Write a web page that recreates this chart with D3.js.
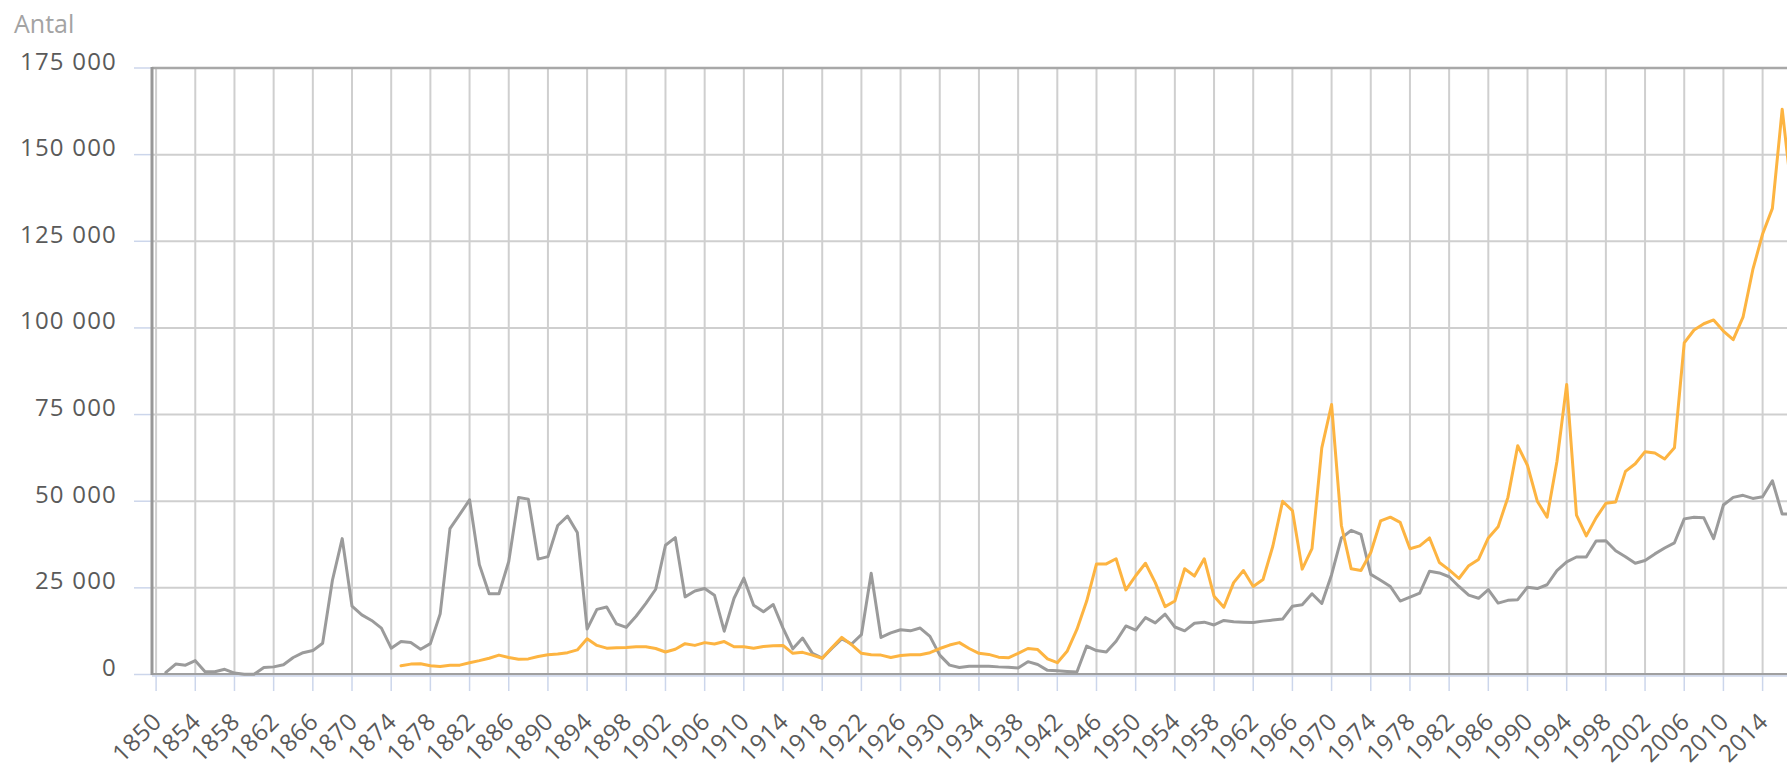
<!DOCTYPE html>
<html>
<head>
<meta charset="utf-8">
<script src="https://cdn.jsdelivr.net/npm/d3@7"></script>
<style>
  html, body { margin: 0; padding: 0; background: #fff; }
  svg { display: block; font-family: "Open Sans", sans-serif; }
</style>
</head>
<body>
<div id="chart"></div>
<script>
// Antal per år, två serier (grå från 1851, orange från 1875)

const grayStart = 1851;
const grayValues = [
  600, 3000, 2700, 4000, 800, 800, 1500, 400, 100, 100,            // 1851-1860
  2000, 2200, 2800, 4900, 6300, 6900, 9000, 27200, 39200, 19700,   // 1861-1870
  17200, 15600, 13400, 7600, 9500, 9200, 7300, 8900, 17500, 42100, // 1871-1880
  46200, 50400, 31700, 23300, 23300, 32600, 51100, 50600, 33300, 34000, // 1881-1890
  43000, 45700, 41000, 13100, 18800, 19500, 14600, 13600, 16800, 20500, // 1891-1900
  24600, 37300, 39500, 22400, 24100, 24800, 22900, 12500, 22000, 27800, // 1901-1910
  20000, 18100, 20200, 13400, 7400, 10500, 6100, 4700, 7600, 10300, // 1911-1920
  8800, 11500, 29200, 10700, 12000, 12900, 12600, 13400, 11000, 5600, // 1921-1930
  2700, 2000, 2400, 2400, 2400, 2200, 2100, 1900, 3700, 2900,      // 1931-1940
  1200, 1100, 900, 700, 8200, 6900, 6500, 9600, 14000, 12800,      // 1941-1950
  16400, 14900, 17400, 13700, 12600, 14800, 15100, 14300, 15600, 15200, // 1951-1960
  15100, 15000, 15400, 15700, 16000, 19700, 20100, 23300, 20500, 28800, // 1961-1970
  39400, 41600, 40400, 28900, 27200, 25400, 21200, 22300, 23500, 29800, // 1971-1980
  29300, 28200, 25400, 22900, 22000, 24500, 20600, 21400, 21600, 25200, // 1981-1990
  24800, 25900, 30000, 32500, 33900, 33900, 38500, 38600, 35700, 34000, // 1991-2000
  32100, 32900, 34800, 36500, 38000, 44900, 45400, 45200, 39200, 48900, // 2001-2010
  51100, 51700, 50800, 51300, 55900, 46300, 46300                   // 2011-2017
];

const orangeStart = 1875;
const orangeValues = [
  2500, 3000, 3100, 2500, 2300, 2700,                              // 1875-1880
  2700, 3400, 4000, 4700, 5600, 4900, 4400, 4500, 5200, 5700,      // 1881-1890
  5900, 6300, 7100, 10300, 8400, 7600, 7700, 7800, 8000, 8000,     // 1891-1900
  7500, 6500, 7300, 8900, 8400, 9200, 8800, 9500, 8000, 8000,      // 1901-1910
  7600, 8100, 8300, 8400, 6100, 6400, 5600, 4700, 7800, 10700,     // 1911-1920
  8600, 6100, 5700, 5600, 4900, 5500, 5700, 5700, 6300, 7500,      // 1921-1930
  8500, 9200, 7500, 6100, 5800, 5000, 4800, 6100, 7500, 7200,      // 1931-1940
  4500, 3400, 6700, 13000, 21200, 31900, 31900, 33400, 24400, 28500, // 1941-1950
  32100, 26500, 19600, 21200, 30500, 28400, 33400, 22600, 19400, 26500, // 1951-1960
  30000, 25400, 27400, 37000, 50000, 47300, 30400, 36300, 65400, 77900, // 1961-1970
  43000, 30500, 30000, 35200, 44300, 45400, 43900, 36300, 37100, 39400, // 1971-1980
  32300, 30200, 27700, 31400, 33200, 39400, 42600, 51100, 66000, 60300, // 1981-1990
  50000, 45400, 61400, 83700, 46000, 40000, 45200, 49400, 49800, 58600, // 1991-2000
  60800, 64300, 63900, 62200, 65400, 95700, 99400, 101200, 102300, 99100, // 2001-2010
  96600, 103100, 116800, 127100, 134500, 163100, 138000            // 2011-2017
];

const yTicks = [0, 25000, 50000, 75000, 100000, 125000, 150000, 175000];
const xTickYears = d3.range(1850, 2018, 4);
const yTitle = "Antal";

const grayColor = "#9b9b9b";
const orangeColor = "#fdb441";

const W = 1787, H = 770;
const plot = { left: 152, top: 68, bottom: 674.5 };

const svg = d3.select("#chart").append("svg")
  .attr("width", W).attr("height", H);

const x = d3.scaleLinear().domain([1850, 2014]).range([156.1, 1762.6]);
const y = d3.scaleLinear().domain([0, 175000]).range([plot.bottom, plot.top]);

// horisontella stödlinjer
svg.append("g").selectAll("line").data(yTicks).join("line")
  .attr("x1", plot.left).attr("x2", W + 10)
  .attr("y1", d => y(d)).attr("y2", d => y(d))
  .attr("stroke", "#cfcfcf").attr("stroke-width", 2);

// vertikala stödlinjer, var fjärde år
svg.append("g").selectAll("line").data(xTickYears).join("line")
  .attr("x1", d => x(d)).attr("x2", d => x(d))
  .attr("y1", plot.top).attr("y2", plot.bottom)
  .attr("stroke", "#cfcfcf").attr("stroke-width", 2);

// y-axel: tickmarks + etiketter
const gY = svg.append("g");
gY.selectAll("line").data(yTicks).join("line")
  .attr("x1", 134).attr("x2", plot.left)
  .attr("y1", d => y(d)).attr("y2", d => y(d))
  .attr("stroke", "#ccd6eb").attr("stroke-width", 1.5);
const fmt = d => d3.format(",")(d).replace(/,/g, " ");
gY.selectAll("text").data(yTicks).join("text")
  .attr("x", 117).attr("y", d => y(d) + 1.5)
  .attr("text-anchor", "end")
  .attr("font-size", 24).attr("fill", "#5a5a5a")
  .attr("letter-spacing", 1.2)
  .text(d => fmt(d));

// x-axel: blå axellinje, tickmarks, roterade årtal
const gX = svg.append("g");
gX.append("line")
  .attr("x1", plot.left).attr("x2", W + 10)
  .attr("y1", plot.bottom + 1.5).attr("y2", plot.bottom + 1.5)
  .attr("stroke", "#ccd6eb").attr("stroke-width", 1.5);
gX.selectAll("line.tick").data(xTickYears).join("line").attr("class", "tick")
  .attr("x1", d => x(d)).attr("x2", d => x(d))
  .attr("y1", plot.bottom).attr("y2", 691)
  .attr("stroke", "#ccd6eb").attr("stroke-width", 1.5);
gX.selectAll("text").data(xTickYears).join("text")
  .attr("transform", d => `translate(${x(d) + 7},${723}) rotate(-45)`)
  .attr("text-anchor", "end")
  .attr("font-size", 24).attr("fill", "#5a5a5a")
  .attr("letter-spacing", 0.6)
  .text(d => d);

// ramlinjer: topp, noll-linje och vänster axel
svg.append("line")
  .attr("x1", plot.left).attr("x2", W + 10)
  .attr("y1", plot.top).attr("y2", plot.top)
  .attr("stroke", "#a8a8a8").attr("stroke-width", 2.5);
svg.append("line")
  .attr("x1", plot.left).attr("x2", W + 10)
  .attr("y1", plot.bottom - 0.5).attr("y2", plot.bottom - 0.5)
  .attr("stroke", "#a0a0a0").attr("stroke-width", 2);
svg.append("line")
  .attr("x1", plot.left).attr("x2", plot.left)
  .attr("y1", plot.top - 1).attr("y2", plot.bottom + 0.5)
  .attr("stroke", "#979797").attr("stroke-width", 3);

// serierna
const line = d3.line().x(d => x(d.year)).y(d => y(d.value));
const grayData = grayValues.map((v, i) => ({ year: grayStart + i, value: v }));
const orangeData = orangeValues.map((v, i) => ({ year: orangeStart + i, value: v }));

svg.append("path").datum(grayData)
  .attr("d", line).attr("fill", "none")
  .attr("stroke", grayColor).attr("stroke-width", 3)
  .attr("stroke-linejoin", "round").attr("stroke-linecap", "round");
svg.append("path").datum(orangeData)
  .attr("d", line).attr("fill", "none")
  .attr("stroke", orangeColor).attr("stroke-width", 3)
  .attr("stroke-linejoin", "round").attr("stroke-linecap", "round");

// axeltitel
svg.append("text")
  .attr("x", 14).attr("y", 33)
  .attr("font-size", 25).attr("fill", "#a3a3a3")
  .text(yTitle);
</script>
</body>
</html>
